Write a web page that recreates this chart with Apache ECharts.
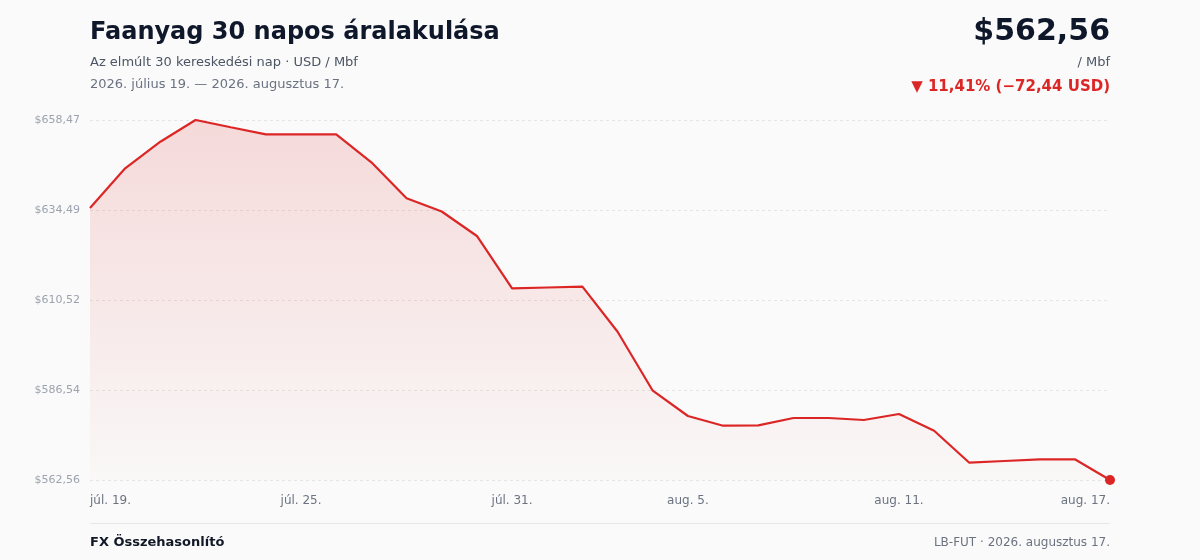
<!DOCTYPE html>
<html>
<head>
<meta charset="utf-8">
<script src="https://cdn.jsdelivr.net/npm/echarts@6/dist/echarts.min.js"></script>
<style>
  html, body { margin: 0; padding: 0; background: #fafafa; }
  #chart { width: 1200px; height: 560px; }
</style>
</head>
<body>
<div id="chart"></div>
<script>
// napi záróárak, USD / Mbf
const dates = [
    'júl. 19.', 'júl. 20.', 'júl. 21.', 'júl. 22.', 'júl. 23.', 'júl. 24.', 'júl. 25.', 'júl. 26.',
    'júl. 27.', 'júl. 28.', 'júl. 29.', 'júl. 30.', 'júl. 31.', 'aug. 1.', 'aug. 2.', 'aug. 3.',
    'aug. 4.', 'aug. 5.', 'aug. 6.', 'aug. 7.', 'aug. 8.', 'aug. 9.', 'aug. 10.', 'aug. 11.',
    'aug. 12.', 'aug. 13.', 'aug. 14.', 'aug. 15.', 'aug. 16.', 'aug. 17.'
];
const prices = [
    635.00, 645.60, 652.69, 658.47, 656.53, 654.66, 654.66, 654.66,
    647.20, 637.61, 634.09, 627.57, 613.63, 613.85, 614.06, 602.07,
    586.35, 579.61, 577.03, 577.13, 579.08, 579.08, 578.54, 580.14,
    575.69, 567.17, 567.62, 568.07, 568.07, 562.56
];
const yTicks = [562.56, 586.54, 610.52, 634.49, 658.47];
const shownLabels = [0, 6, 12, 17, 23, 29];

const RED = '#dc2626';
const fmt = v => '$' + v.toFixed(2).replace('.', ',');

const chart = echarts.init(document.getElementById('chart'));
const lastIdx = prices.length - 1;
const seriesData = prices.map((v, i) => i === lastIdx
    ? { value: v, symbol: 'circle', symbolSize: 10, itemStyle: { color: RED, borderWidth: 0 } }
    : v);

chart.setOption({
    backgroundColor: '#fafafa',
    textStyle: { fontFamily: 'DejaVu Sans' },
    grid: { left: 90, right: 90, top: 120, bottom: 80 },
    xAxis: {
        type: 'category',
        data: dates,
        boundaryGap: false,
        axisLine: { show: false },
        axisTick: { show: false },
        axisLabel: {
            color: '#6b7280', fontSize: 12, margin: 15,
            interval: i => shownLabels.includes(i),
            alignMinLabel: 'left', alignMaxLabel: 'right'
        }
    },
    yAxis: {
        type: 'value',
        min: yTicks[0],
        max: yTicks[yTicks.length - 1],
        axisLine: { show: false },
        axisTick: { show: false, customValues: yTicks },
        axisLabel: { color: '#9ca3af', fontSize: 11, margin: 10, customValues: yTicks, formatter: fmt },
        splitLine: { lineStyle: { color: '#e3e5e9', type: [3, 3], width: 1 } }
    },
    series: [{
        type: 'line',
        data: seriesData,
        symbol: 'none',
        showAllSymbol: true,
        lineStyle: { color: RED, width: 2.2 },
        itemStyle: { color: RED },
        areaStyle: {
            color: new echarts.graphic.LinearGradient(0, 0, 0, 1, [
                { offset: 0, color: 'rgba(220,38,38,0.22)' },
                { offset: 1, color: 'rgba(220,38,38,0.02)' }
            ])
        },
        animation: false
    }],
    graphic: [
        { type: 'text', left: 90, top: 21, style: { text: 'Faanyag 30 napos áralakulása', font: 'bold 24px "DejaVu Sans"', fill: '#0f172a' } },
        { type: 'text', left: 90, top: 56, style: { text: 'Az elmúlt 30 kereskedési nap · USD / Mbf', font: '13px "DejaVu Sans"', fill: '#4b5563' } },
        { type: 'text', left: 90, top: 78, style: { text: '2026. július 19. — 2026. augusztus 17.', font: '13px "DejaVu Sans"', fill: '#6b7280' } },
        { type: 'text', right: 90, top: 17, style: { text: '$562,56', font: 'bold 30px "DejaVu Sans"', fill: '#0f172a' } },
        { type: 'text', right: 90, top: 56, style: { text: '/ Mbf', font: '13px "DejaVu Sans"', fill: '#4b5563' } },
        { type: 'text', right: 90, top: 80, style: { text: '▼ 11,41% (−72,44 USD)', font: 'bold 15px "DejaVu Sans"', fill: RED } },
        { type: 'rect', left: 90, top: 523, shape: { width: 1020, height: 1 }, style: { fill: '#e5e7eb' } },
        { type: 'text', left: 90, top: 536, style: { text: 'FX Összehasonlító', font: 'bold 13px "DejaVu Sans"', fill: '#111827' } },
        { type: 'text', right: 90, top: 537, style: { text: 'LB-FUT · 2026. augusztus 17.', font: '12px "DejaVu Sans"', fill: '#6b7280' } }
    ]
});
</script>
</body>
</html>
